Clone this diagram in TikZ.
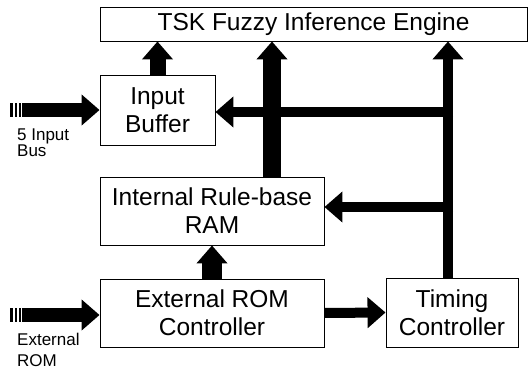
\documentclass[tikz,border=0pt]{standalone}
\usepackage{fontspec}
\setmainfont{Liberation Sans}
\usetikzlibrary{arrows.meta}
\begin{document}
\begin{tikzpicture}[x=1pt,y=-1pt,
  block/.style={draw=black, line width=0.9pt, fill=white, inner sep=0pt,
    align=center, font=\fontsize{24.5}{28}\selectfont},
  fatarrow/.style={draw=black, line width=#1,
    -{Triangle[width=30pt,length=18pt]}},
  fatarrow/.default=11pt,
  busbar/.style={fill=black, draw=none},
  sidelabel/.style={anchor=base west, inner sep=0pt, font=\fontsize{17}{19}\selectfont}]
\useasboundingbox (0,0) rectangle (528,369);

% blocks
\node[block, minimum width=427pt, minimum height=34pt] (tsk) at (313.5,24) {TSK Fuzzy Inference Engine};
\node[block, minimum width=115pt, minimum height=70pt] (inbuf) at (157.5,110) {Input\\Buffer};
\node[block, minimum width=224pt, minimum height=68pt] (ram) at (212,211) {Internal Rule-base\\RAM};
\node[block, minimum width=224pt, minimum height=68pt] (extrom) at (212,313) {External ROM\\Controller};
\node[block, minimum width=132pt, minimum height=69pt] (timing) at (452,312.5) {Timing\\Controller};

% routing points
\coordinate (mid) at (272,0);
\coordinate (bus) at (448,0);
\coordinate (busin) at (22,110);
\coordinate (romin) at (22,315);
\coordinate (ibtap) at (448,112);
\coordinate (ramtap) at (448,207);

% incoming buses with their striped tails
\foreach \c in {busin, romin} {
  \fill[busbar] ([xshift=-12pt,yshift=-7pt]\c) rectangle ([xshift=-9pt,yshift=7pt]\c);
  \fill[busbar] ([xshift=-7pt,yshift=-7pt]\c) rectangle ([xshift=-5pt,yshift=7pt]\c);
  \fill[busbar] ([xshift=-3pt,yshift=-7pt]\c) rectangle ([xshift=-1pt,yshift=7pt]\c);
}
\draw[fatarrow=14pt] (busin) -- (busin -| inbuf.west);
\draw[fatarrow=14pt] (romin) -- (romin -| extrom.west);

% outer labels
\node[sidelabel] (lbus1) at (17,140) {5 Input};
\node[sidelabel] (lbus2) at (17,157) {Bus};
\node[sidelabel] (lrom1) at (17,345) {External};
\node[sidelabel] (lrom2) at (17,366) {ROM};

% vertical feeds into the engine
\draw[fatarrow=16pt] (inbuf.north) -- (inbuf.north |- tsk.south);
\draw[fatarrow=18pt] (ram.north -| mid) -- (tsk.south -| mid);
\draw[fatarrow=10pt] (timing.north -| bus) -- (tsk.south -| bus);
\draw[fatarrow=20pt] (extrom.north) -- (ram.south);

% timing distribution
\draw[fatarrow=10pt] ([xshift=5pt]ibtap) -- (ibtap -| inbuf.east);
\draw[fatarrow=10pt] ([xshift=5pt]ramtap) -- (ramtap -| ram.east);
\draw[fatarrow=10pt] (extrom.east) -- (timing.west);
\end{tikzpicture}
\end{document}
